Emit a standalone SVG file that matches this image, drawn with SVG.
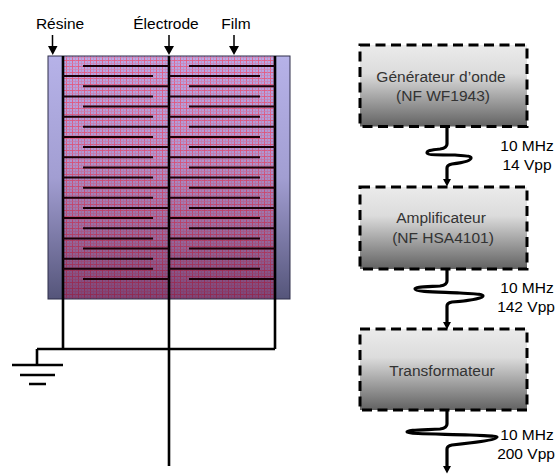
<svg xmlns="http://www.w3.org/2000/svg" width="556" height="474" viewBox="0 0 556 474">
<style>
text{font-family:"Liberation Sans",Arial,sans-serif;font-size:15.5px}
.m{text-anchor:middle}
.b{fill:#000}
.g{fill:#333}
.w{fill:none;stroke:#000;stroke-width:3.2}
.e{fill:none;stroke:#000;stroke-width:2.6}
.f{fill:none;stroke:#1a0008;stroke-width:2}
.box{fill:url(#bg);stroke:#000;stroke-width:3;stroke-dasharray:10 5.5}
.a{fill:none;stroke:#000;stroke-width:1.5}
</style>
<defs>
<linearGradient id="bg" x1="0" y1="0" x2="0" y2="1"><stop offset="0" stop-color="#ebebeb"/><stop offset=".35" stop-color="#dcdcdc"/><stop offset="1" stop-color="#626262"/></linearGradient>
<linearGradient id="rs" x1="0" y1="0" x2="0" y2="1"><stop offset="0" stop-color="#b6b2e8"/><stop offset=".5" stop-color="#a29ed2"/><stop offset="1" stop-color="#55557a"/></linearGradient>
<linearGradient id="sh" x1="0" y1="0" x2="0" y2="1"><stop offset="0" stop-color="#700020" stop-opacity="0"/><stop offset=".4" stop-color="#700020" stop-opacity=".1"/><stop offset="1" stop-color="#500028" stop-opacity=".58"/></linearGradient>
<pattern id="mesh" width="6" height="6" patternUnits="userSpaceOnUse"><rect width="6" height="6" fill="#b8a8e6"/><rect x="0" width="1" height="6" fill="#e85a80" opacity=".85"/><rect y="0" width="6" height="1" fill="#e85a80" opacity=".85"/><rect x="3" width="1" height="6" fill="#d084b4" opacity=".7"/><rect y="3" width="6" height="1" fill="#d084b4" opacity=".7"/></pattern>
</defs>
<g id="structure">
<rect x="48" y="56" width="242" height="243" fill="url(#rs)"/>
<rect x="63" y="56" width="212" height="243" fill="url(#mesh)"/>
<rect x="63" y="56" width="212" height="243" fill="url(#sh)"/>
<rect x="48" y="56" width="242" height="243" fill="none" stroke="#2f2f4a" stroke-width="1"/>
</g>
<g id="labels-left">
<text x="60" y="29" class="m b">Résine</text>
<text x="166" y="29" class="m b">Électrode</text>
<text x="236" y="29" class="m b">Film</text>
</g>
<g id="connectors">
<path class="a" d="M52.500 35V48M169 35V48M234 35V48"/>
<path d="M48 46h9.500l-4.750 9zM164 46h10l-5 9zM229 46h10l-5 9z"/>
<path class="e" d="M63 56V349M169 56V466M275 56V349M37 349H275M37 349V365"/>
<path class="e" d="M12 365H63M20 375H55M29 384H46"/>
<path class="f" d="M83 66H169M189 66H275M63 76H153M169 76H260M83 86.300H169M189 86.300H275M63 96.400H153M169 96.400H260M83 106.600H169M189 106.600H275M63 116.700H153M169 116.700H260M83 126.800H169M189 126.800H275M63 137H153M169 137H260M83 147.100H169M189 147.100H275M63 157.300H153M169 157.300H260M83 167.400H169M189 167.400H275M63 177.500H153M169 177.500H260M83 187.700H169M189 187.700H275M63 197.800H153M169 197.800H260M83 208H169M189 208H275M63 218.100H153M169 218.100H260M83 228.200H169M189 228.200H275M63 238.400H153M169 238.400H260M83 248.500H169M189 248.500H275M63 258.700H153M169 258.700H260M63 268.800H153M169 268.800H260M83 279H169M189 279H275"/>
<path class="w" d="M447 127V144Q447 148 440 149C430 150 427 151 427 153C427 155 440 155 455 155C465 156 471 156 471 158C471 161 460 163 452 164Q447 165 447 168V180"/>
<path d="M443 179h8l-4 7.500z"/>
<path class="w" d="M447 269V281Q447 285 440 286C422 287 415 287 415 289C415 292 440 292 460 293C475 294 483 294 483 296C483 299 465 301 452 302Q447 303 447 306V323"/>
<path d="M443 322h8l-4 7.500z"/>
<path class="w" d="M447 411V424Q447 428 440 429C420 430 407 430 407 432C407 434 440 434 470 435C487 436 497 436 497 437C497 440 470 443 452 445Q447 446 447 449V467"/>
<path d="M443 466h8l-4 7.500z"/>
</g>
<g id="n1"><rect class="box" x="360" y="45" width="167" height="81.500"/><text x="441" y="82" class="m g">Générateur d’onde</text><text x="443" y="101" class="m g">(NF WF1943)</text></g>
<g id="n2"><rect class="box" x="360" y="187" width="167" height="82"/><text x="441" y="223" class="m g">Amplificateur</text><text x="443" y="243" class="m g">(NF HSA4101)</text></g>
<g id="n3"><rect class="box" x="360" y="329" width="167" height="81"/><text x="442" y="376" class="m g">Transformateur</text></g>
<g id="labels-right">
<text x="527" y="151" class="m b">10 MHz</text><text x="527" y="170" class="m b">14 Vpp</text>
<text x="527" y="293" class="m b">10 MHz</text><text x="526" y="312" class="m b">142 Vpp</text>
<text x="527" y="440" class="m b">10 MHz</text><text x="526" y="459" class="m b">200 Vpp</text>
</g>
</svg>
